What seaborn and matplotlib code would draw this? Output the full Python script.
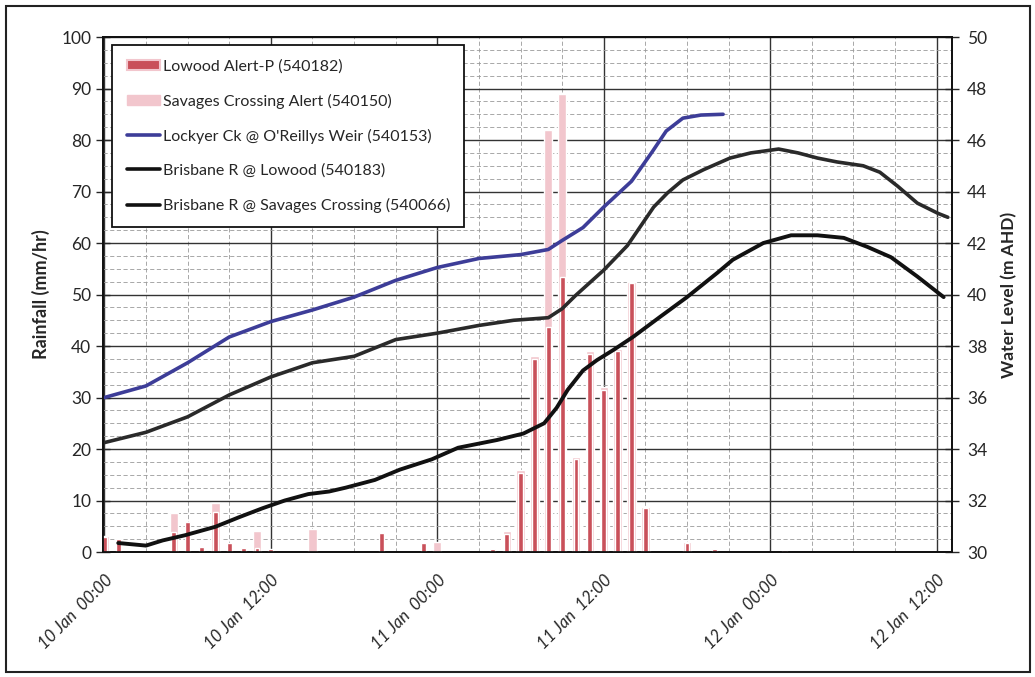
import matplotlib
matplotlib.use("Agg")
import matplotlib.pyplot as plt
from matplotlib.patches import Patch, Rectangle
from matplotlib.lines import Line2D
from matplotlib.ticker import MultipleLocator
import seaborn as sns
import pandas as pd

# ---------------- data (hours after 10 Jan 00:00) ----------------
lowood_rain_hours = [0, 1, 5, 6, 7, 8, 9, 10, 11, 12, 20, 23, 28, 29, 30, 31, 32, 33,
                     34, 35, 36, 37, 38, 39, 42, 44, 49]
lowood_rain_mm = [2.9, 2.5, 3.9, 5.8, 1.0, 7.8, 1.8, 0.8, 0.8, 0.5, 3.7, 1.7, 0.6, 3.5,
                  15.3, 37.5, 43.6, 53.4, 18.0, 38.5, 31.5, 39.0, 52.2, 8.5, 1.8, 0.6, 0.3]

savages_rain_hours = [0, 5, 8, 11, 15, 24, 29, 30, 31, 32, 33, 34, 35, 36, 37, 38, 39, 42]
savages_rain_mm = [3.2, 7.5, 9.5, 4.0, 4.5, 2.0, 4.0, 16.0, 38.0, 82.0, 89.0, 18.5, 39.0,
                   32.0, 39.5, 52.5, 8.8, 2.0]

lockyer_hours = [0, 3, 6, 9, 12, 15, 18, 21, 24, 27, 30, 32, 33, 34.5, 36, 38, 39.5,
                 40.5, 41.7, 43, 44.6]
lockyer_level = [36.0, 36.45, 37.35, 38.35, 38.95, 39.4, 39.9, 40.55, 41.05, 41.4, 41.55,
                 41.75, 42.1, 42.6, 43.4, 44.4, 45.55, 46.35, 46.85, 46.97, 47.0]

savages_hours = [0, 3, 6, 9, 12, 15, 18, 21, 24, 27, 29.5, 32, 33, 34, 36, 37.7, 39.6,
                 40.6, 41.7, 43.2, 45.1, 46.6, 48.6, 50, 51.4, 52.8, 54.7, 55.9, 57.2,
                 58.6, 60.1, 60.8]
savages_level = [34.25, 34.65, 35.25, 36.1, 36.8, 37.35, 37.6, 38.25, 38.5, 38.8, 39.0,
                 39.1, 39.45, 39.98, 40.95, 41.9, 43.4, 43.95, 44.45, 44.85, 45.3, 45.5,
                 45.65, 45.5, 45.3, 45.15, 45.0, 44.75, 44.2, 43.55, 43.15, 43.0]

lowood_hours = [1.0, 3.0, 4.2, 5.8, 8.0, 9.7, 11.4, 13, 14.7, 16.2, 17.4, 19.5, 21.3,
                23.6, 25.5, 28.3, 30.2, 31.7, 32.6, 33.4, 34.5, 35.5, 36.7, 38.1, 40.1,
                42.0, 44.2, 45.3, 47.5, 49.5, 51.4, 53.3, 55.0, 56.7, 58.6, 60.5]
lowood_level = [30.35, 30.25, 30.45, 30.65, 30.98, 31.35, 31.7, 32.0, 32.25, 32.35, 32.5,
                32.8, 33.2, 33.6, 34.05, 34.35, 34.6, 35.0, 35.6, 36.3, 37.05, 37.45,
                37.85, 38.35, 39.15, 39.9, 40.85, 41.35, 42.0, 42.3, 42.3, 42.2, 41.85,
                41.45, 40.7, 39.9]

tick_hours = [0, 12, 24, 36, 48, 60]
tick_labels = ["10 Jan  00:00", "10 Jan  12:00", "11 Jan  00:00",
               "11 Jan  12:00", "12 Jan  00:00", "12 Jan  12:00"]

legend_labels = ["Lowood Alert-P (540182)", "Savages Crossing Alert (540150)",
                 "Lockyer Ck @ O'Reillys Weir (540153)", "Brisbane R @ Lowood (540183)",
                 "Brisbane R @ Savages Crossing (540066)"]

# ---------------- style ----------------
sns.set_style("white")
plt.rcParams["font.family"] = ["Lato", "DejaVu Sans"]

RED = "#c9505a"
PINK = "#f2c6cd"
BLUE = "#3d3d98"
DARK = "#2a2a2a"
BLACK = "#111111"

fig = plt.figure(figsize=(10.35, 6.77), dpi=100)
fig.patch.set_facecolor("white")
ax = fig.add_axes([0.0995, 0.1846, 0.8203, 0.7607])
ax2 = ax.twinx()

# bars
df_s = pd.DataFrame({"h": savages_rain_hours, "mm": savages_rain_mm})
df_l = pd.DataFrame({"h": lowood_rain_hours, "mm": lowood_rain_mm})
sns.barplot(data=df_s, x="h", y="mm", native_scale=True, color=PINK, width=0.6,
            errorbar=None, saturation=1, ax=ax, zorder=3)
sns.barplot(data=df_l, x="h", y="mm", native_scale=True, color=RED, width=0.35,
            errorbar=None, saturation=1, ax=ax, zorder=4)

# lines
line_kw = dict(solid_joinstyle="round", solid_capstyle="round")
sns.lineplot(x=lockyer_hours, y=lockyer_level, ax=ax2, color=BLUE, lw=2.6, **line_kw)
sns.lineplot(x=savages_hours, y=savages_level, ax=ax2, color=DARK, lw=2.6, **line_kw)
sns.lineplot(x=lowood_hours, y=lowood_level, ax=ax2, color=BLACK, lw=2.8, **line_kw)

# axes limits / ticks
ax.set_xlim(-0.1, 61.1)
ax.set_ylim(0, 100)
ax2.set_ylim(30, 50)
ax.yaxis.set_major_locator(MultipleLocator(10))
ax.yaxis.set_minor_locator(MultipleLocator(2.5))
ax.xaxis.set_major_locator(MultipleLocator(6))
ax.xaxis.set_minor_locator(MultipleLocator(3))
ax2.yaxis.set_major_locator(MultipleLocator(2))

ax.grid(which="major", axis="both", color="#333333", lw=1.0, ls="-", zorder=0)
ax.grid(which="minor", axis="both", color="#9a9a9a", lw=0.6, ls=(0, (5, 3)), zorder=0)
ax.set_axisbelow(True)

ax.set_xticks(tick_hours)
ax.set_xticklabels(tick_labels, rotation=45, ha="right", rotation_mode="anchor",
                   fontsize=12, style="italic")
ax.tick_params(axis="x", which="major", length=8, direction="inout", pad=10, width=1)
ax.tick_params(axis="x", which="minor", length=0)
ax.tick_params(axis="y", which="major", length=10, direction="inout", labelsize=12.5, width=1)
ax.tick_params(axis="y", which="minor", length=0)
ax2.tick_params(axis="y", length=10, direction="inout", labelsize=12.5, width=1, pad=6)

ax.set_xlabel("")
ax.set_ylabel("Rainfall (mm/hr)", fontsize=13, fontweight="bold", labelpad=8)
ax2.set_ylabel("Water Level (m AHD)", fontsize=12.5, fontweight="bold", labelpad=10)

for a in (ax, ax2):
    for s in a.spines.values():
        s.set_color("#111111")
        s.set_linewidth(1.3)
        s.set_visible(True)

# legend
handles = [Patch(facecolor=RED, edgecolor=PINK, lw=1.5),
           Patch(facecolor=PINK, edgecolor=PINK),
           Line2D([], [], color=BLUE, lw=2.6),
           Line2D([], [], color=BLACK, lw=2.6),
           Line2D([], [], color=BLACK, lw=2.6)]
leg = ax2.legend(handles, legend_labels, loc="upper left", bbox_to_anchor=(0.011, 0.985),
                 borderaxespad=0, frameon=True, fancybox=False, framealpha=1,
                 edgecolor="#111111", fontsize=11.5, labelspacing=1.25,
                 handlelength=2.1, handletextpad=0.15, borderpad=0.9, handleheight=0.6)
leg.get_frame().set_linewidth(1.3)
leg.set_zorder(10)

# outer frame around the whole chart
fig.patches.append(Rectangle((0.006, 0.008), 0.989, 0.983, transform=fig.transFigure,
                             fill=False, edgecolor="#222222", lw=1.5))

fig.savefig("out.png", dpi=100)
